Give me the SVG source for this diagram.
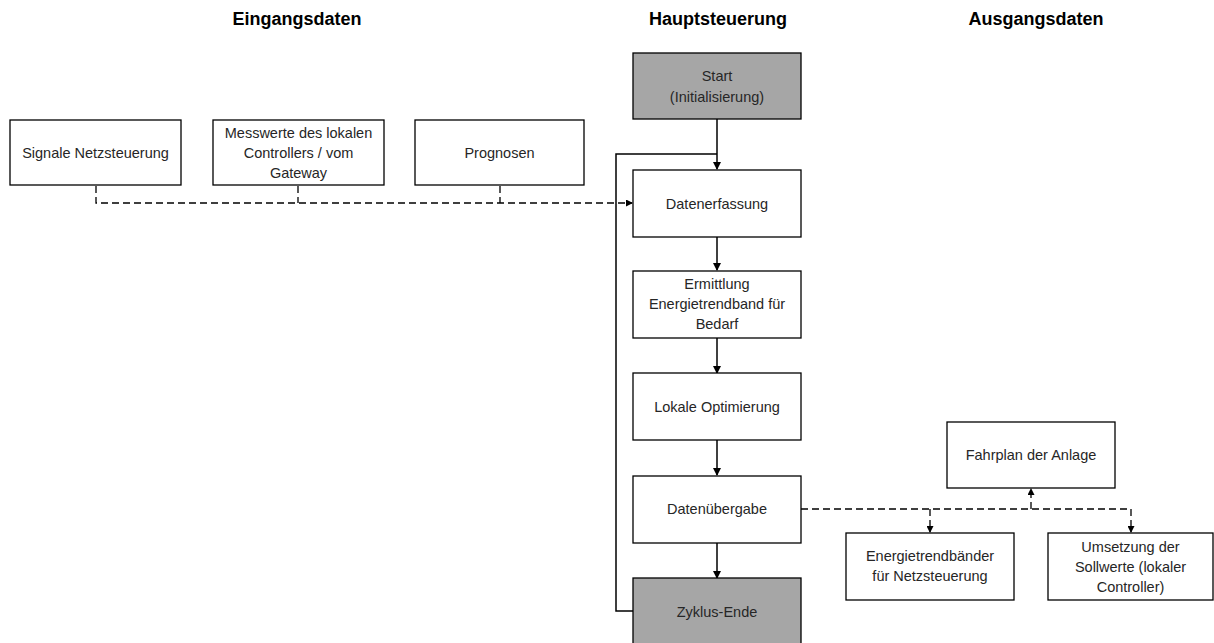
<svg xmlns="http://www.w3.org/2000/svg" width="1214" height="643" viewBox="0 0 1214 643">
<style>
.box{fill:#fff;stroke:#000;stroke-width:1.3}
.grey{fill:#a6a6a6;stroke:#000;stroke-width:1.3}
.t{font-family:"Liberation Sans",Arial,sans-serif;font-size:14.5px;fill:#262626;text-anchor:middle;dominant-baseline:central}
.h{font-family:"Liberation Sans",Arial,sans-serif;font-size:18px;font-weight:bold;fill:#000;text-anchor:middle;dominant-baseline:central}
.solid{fill:none;stroke:#000;stroke-width:1.5}
.dash{fill:none;stroke:#000;stroke-width:1.3;stroke-dasharray:7,4}
</style>
<defs>
<marker id="ah" markerWidth="8" markerHeight="8" refX="7" refY="4" orient="auto" markerUnits="userSpaceOnUse">
<path d="M0,0 L8,4 L0,8 Z" fill="#000"/>
</marker>
<marker id="ahs" markerWidth="7" markerHeight="7" refX="6" refY="3.5" orient="auto" markerUnits="userSpaceOnUse">
<path d="M0,0 L7,3.5 L0,7 Z" fill="#000"/>
</marker>
</defs>
<g id="headers">
<text class="h" x="297" y="19">Eingangsdaten</text>
<text class="h" x="718" y="19">Hauptsteuerung</text>
<text class="h" x="1036" y="19">Ausgangsdaten</text>
</g>
<g id="connectors">
<line class="solid" x1="717" y1="119" x2="717" y2="169" marker-end="url(#ah)"/>
<polyline class="solid" points="633,611 616,611 616,154 717,154"/>
<line class="solid" x1="717" y1="237" x2="717" y2="270" marker-end="url(#ah)"/>
<line class="solid" x1="717" y1="338" x2="717" y2="373" marker-end="url(#ah)"/>
<line class="solid" x1="717" y1="440" x2="717" y2="475" marker-end="url(#ah)"/>
<line class="solid" x1="717" y1="543" x2="717" y2="578" marker-end="url(#ah)"/>
<polyline class="dash" points="96,186 96,203 632,203" marker-end="url(#ahs)"/>
<line class="dash" x1="298" y1="186" x2="298" y2="203"/>
<line class="dash" x1="500" y1="186" x2="500" y2="203"/>
<line class="dash" x1="801" y1="509" x2="1131" y2="509"/>
<line class="dash" x1="930" y1="509" x2="930" y2="532" marker-end="url(#ahs)"/>
<line class="dash" x1="1131" y1="509" x2="1131" y2="532" marker-end="url(#ahs)"/>
<line class="dash" x1="1031" y1="509" x2="1031" y2="489" marker-end="url(#ahs)"/>
</g>
<g id="n-signale"><rect class="box" x="10" y="120" width="171" height="65"/><text class="t" x="95.5" y="153">Signale Netzsteuerung</text></g>
<g id="n-messwerte"><rect class="box" x="213" y="120" width="171" height="65"/><text class="t" x="298.5" y="133">Messwerte des lokalen</text><text class="t" x="298.5" y="153">Controllers / vom</text><text class="t" x="298.5" y="173">Gateway</text></g>
<g id="n-prognosen"><rect class="box" x="415" y="120" width="169" height="65"/><text class="t" x="499.5" y="153">Prognosen</text></g>
<g id="n-start"><rect class="grey" x="633" y="53" width="168" height="66"/><text class="t" x="717" y="76">Start</text><text class="t" x="717" y="97">(Initialisierung)</text></g>
<g id="n-datenerfassung"><rect class="box" x="633" y="170" width="168" height="67"/><text class="t" x="717" y="204">Datenerfassung</text></g>
<g id="n-ermittlung"><rect class="box" x="633" y="271" width="168" height="67"/><text class="t" x="717" y="284">Ermittlung</text><text class="t" x="717" y="304">Energietrendband für</text><text class="t" x="717" y="324">Bedarf</text></g>
<g id="n-lokale"><rect class="box" x="633" y="373" width="168" height="67"/><text class="t" x="717" y="407">Lokale Optimierung</text></g>
<g id="n-datenuebergabe"><rect class="box" x="633" y="476" width="168" height="67"/><text class="t" x="717" y="509">Datenübergabe</text></g>
<g id="n-zyklus"><rect class="grey" x="633" y="578" width="168" height="67"/><text class="t" x="717" y="612">Zyklus-Ende</text></g>
<g id="n-fahrplan"><rect class="box" x="947" y="422" width="168" height="66"/><text class="t" x="1031" y="455">Fahrplan der Anlage</text></g>
<g id="n-energietrend"><rect class="box" x="846" y="533" width="168" height="67"/><text class="t" x="930" y="556">Energietrendbänder</text><text class="t" x="930" y="576">für Netzsteuerung</text></g>
<g id="n-umsetzung"><rect class="box" x="1048" y="533" width="165" height="67"/><text class="t" x="1130.5" y="547">Umsetzung der</text><text class="t" x="1130.5" y="567">Sollwerte (lokaler</text><text class="t" x="1130.5" y="587">Controller)</text></g>
</svg>
